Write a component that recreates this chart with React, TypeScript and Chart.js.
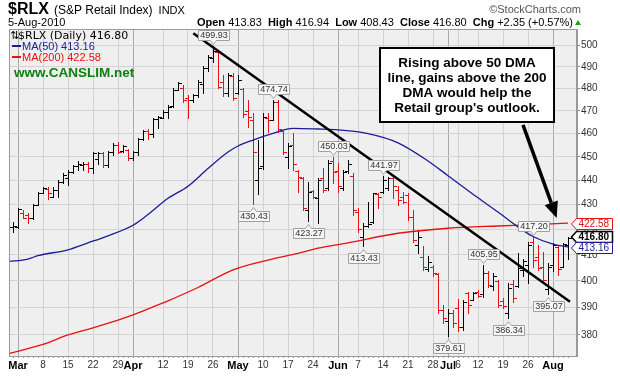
import React, { useEffect, useRef } from "react";
import { Chart, registerables } from "chart.js";
Chart.register(...registerables);

// ---------- DATA ----------
// bar index 0 = 26-Feb-2010 ... index 111 = 5-Aug-2010
const opens = [
  421.1, 421.0, 426.5, 426.0, 424.4, 430.0, 434.8, 436.3, 433.3, 435.9,
  439.5, 441.0, 443.5, 446.0, 446.5, 446.8, 445.1, 449.0, 451.5, 446.5,
  452.0, 455.0, 452.5, 453.0, 449.5, 452.0, 457.5, 461.0, 460.0, 466.5,
  467.0, 469.5, 472.0, 479.5, 480.2, 475.6, 475.0, 477.1, 482.0, 489.5,
  494.0, 497.0, 483.1, 478.2, 486.0, 478.0, 480.0, 470.0, 466.0, 440.0,
  446.0, 467.0, 466.0, 474.0, 461.0, 450.0, 455.0, 444.0, 441.0, 428.0,
  435.5, 432.6, 441.0, 437.0, 448.0, 444.0, 437.0, 444.0, 442.0, 427.0,
  417.0, 421.5, 423.0, 434.3, 435.0, 437.0, 441.0, 436.0, 433.0, 434.0,
  425.0, 414.0, 409.0, 404.5, 405.5, 402.5, 389.0, 385.0, 388.0, 390.0,
  383.0, 395.5, 393.0, 396.0, 395.0, 403.0, 398.0, 400.0, 392.5, 388.0,
  399.0, 398.0, 404.0, 406.0, 415.0, 409.0, 405.5, 397.0, 406.0, 413.0,
  405.5, 413.83,
];
const highs = [
  423.1, 428.5, 427.8, 426.5, 430.2, 435.3, 437.4, 437.4, 437.4, 440.2,
  443.0, 444.4, 446.4, 448.1, 447.6, 447.8, 452.2, 451.9, 451.9, 452.5,
  455.8, 456.5, 455.0, 453.2, 452.5, 458.0, 461.6, 462.0, 467.0, 467.8,
  470.4, 472.6, 480.2, 483.1, 481.6, 477.1, 477.8, 484.0, 490.5, 495.6,
  499.93, 498.0, 486.1, 487.0, 487.0, 486.1, 480.2, 474.9, 468.9, 457.2,
  468.9, 468.9, 474.74, 474.9, 461.2, 455.8, 460.1, 444.4, 441.6, 439.5,
  436.0, 440.9, 445.1, 448.6, 450.03, 447.2, 444.4, 448.6, 443.0, 428.5,
  422.5, 431.2, 434.6, 434.6, 441.97, 441.5, 441.6, 437.5, 435.3, 434.6,
  427.8, 419.8, 413.3, 409.4, 406.0, 402.9, 391.0, 389.5, 389.0, 393.3,
  392.8, 395.9, 395.9, 396.6, 405.95, 403.6, 403.0, 400.3, 393.4, 399.1,
  400.3, 410.7, 408.5, 415.2, 417.2, 413.9, 411.3, 406.7, 414.6, 413.9,
  414.6, 416.94,
];
const lows = [
  419.1, 420.5, 424.4, 422.5, 424.0, 430.0, 434.6, 432.2, 433.0, 433.0,
  438.8, 438.1, 443.0, 444.4, 444.4, 443.7, 443.0, 447.0, 445.5, 445.8,
  450.8, 451.5, 452.0, 448.6, 448.6, 450.8, 457.0, 457.6, 458.5, 462.6,
  466.7, 466.7, 471.9, 479.4, 474.1, 466.7, 474.1, 476.4, 478.0, 488.0,
  492.5, 480.2, 476.7, 476.7, 474.9, 477.6, 467.1, 462.7, 430.43, 434.5,
  445.0, 460.9, 466.0, 460.9, 451.2, 445.1, 444.4, 435.3, 427.8, 423.27,
  432.6, 422.5, 435.3, 436.0, 438.8, 435.3, 436.0, 443.0, 425.8, 419.1,
  413.43, 421.1, 422.5, 428.5, 434.6, 436.0, 432.6, 429.8, 430.5, 423.8,
  415.2, 410.7, 404.2, 403.6, 402.0, 387.9, 384.5, 379.61, 383.0, 381.5,
  381.8, 388.0, 392.8, 394.1, 394.1, 397.8, 396.6, 390.3, 389.7, 386.34,
  392.2, 397.8, 401.7, 399.1, 405.5, 404.2, 399.1, 395.07, 403.6, 402.3,
  405.5, 408.43,
];
const closes = [
  421.3, 428.1, 424.7, 424.4, 430.0, 434.6, 436.7, 434.6, 435.9, 439.5,
  442.3, 443.7, 446.1, 446.8, 447.0, 445.1, 451.5, 451.5, 446.5, 452.0,
  455.0, 452.2, 454.5, 449.5, 452.0, 457.5, 461.0, 459.8, 466.5, 467.3,
  469.7, 471.9, 479.4, 482.4, 474.9, 474.9, 477.1, 483.1, 489.5, 494.5,
  497.5, 480.9, 478.2, 486.5, 475.6, 484.0, 468.6, 467.1, 451.9, 445.3,
  467.1, 466.0, 474.1, 462.0, 451.9, 454.5, 447.0, 441.6, 428.5, 435.3,
  433.0, 440.2, 436.0, 447.5, 443.7, 437.5, 443.5, 447.0, 427.8, 420.0,
  421.5, 422.0, 434.6, 433.0, 440.0, 441.0, 437.5, 432.0, 431.0, 425.0,
  416.0, 417.2, 405.5, 407.4, 403.0, 389.0, 386.0, 388.0, 384.5, 383.0,
  392.0, 391.0, 395.5, 394.5, 403.0, 398.5, 402.0, 391.0, 390.5, 397.5,
  393.5, 405.0, 407.5, 414.0, 408.0, 405.0, 400.5, 405.5, 413.8, 404.5,
  414.45, 416.8,
];

const ma50Idx = [-1, 3, 5, 11, 15, 19, 24, 27, 31, 35, 39, 43, 45, 48, 52, 56, 61, 65, 71, 77, 83, 87, 93, 97, 101, 104, 108, 111];
const ma50Val = [407.4, 408.4, 409.7, 412.0, 414.7, 417.5, 421.7, 426.0, 432.6, 437.6, 445.0, 452.0, 454.6, 457.2, 460.1, 462.3, 462.0, 461.6, 460.0, 456.0, 448.2, 442.0, 432.8, 427.0, 421.0, 417.2, 414.2, 413.16];

const ma200Idx = [-1, 6, 11, 16, 21, 24, 29, 31, 37, 44, 51, 57, 61, 67, 77, 87, 97, 104, 111];
const ma200Val = [373.3, 376.6, 380.0, 382.6, 385.4, 387.3, 391.0, 392.5, 397.5, 404.2, 408.0, 410.6, 412.6, 414.7, 418.5, 420.5, 421.4, 421.9, 422.58];

const trendIdx = [36.06, 111.4];
const trendVal = [505.9, 392.2];

const arrowIdx = [102, 108.74];
const arrowVal = [463.8, 424.6];

const xTickIdx = [1, 6, 11, 16, 21, 24, 30, 35, 40, 45, 50, 55, 60, 65, 69, 74, 79, 84, 87, 89, 93, 98, 103, 108];
const xTickLabels = ["Mar", "8", "15", "22", "29", "Apr", "12", "19", "26", "May", "10", "17", "24", "Jun", "7", "14", "21", "28", "Jul", "6", "12", "19", "26", "Aug"];
const monthNames = ["Mar", "Apr", "May", "Jun", "Jul", "Aug"];

const yTicks = [380, 390, 400, 410, 420, 430, 440, 450, 460, 470, 480, 490, 500];

const peakIdx = [40, 52, 64, 74, 94, 104];
const troughIdx = [48, 59, 70, 87, 99, 107];

const ma50Last = 413.16;
const ma200Last = 422.58;

const noteLines = ["Rising above 50 DMA", "line, gains above the 200", "DMA would help the", "Retail group's outlook."];

// ---------- STYLE ----------
const FONT = '"Liberation Sans", Arial, Helvetica, "DejaVu Sans", sans-serif';
const WIDE = '"DejaVu Sans", Verdana, sans-serif';
const RED = "#e81010";
const NAVY = "#1c1c96";
const BG = "#efefef";
const GRID = "#d3d3d3";
const MONTH_GRID = "#a8a8a8";

const labelMap = new Map<number, string>();
xTickIdx.forEach((v, k) => labelMap.set(v, xTickLabels[k]));

function fmt(v: number) {
  return v.toFixed(2);
}

const drawPlugin = {
  id: "stockDraw",
  beforeDraw(chart: any) {
    const { ctx, chartArea: a } = chart;
    ctx.save();
    ctx.fillStyle = "#ffffff";
    ctx.fillRect(0, 0, chart.width, chart.height);
    ctx.fillStyle = BG;
    ctx.fillRect(a.left, a.top, a.right - a.left, a.bottom - a.top);
    ctx.restore();
  },
  beforeDatasetsDraw(chart: any) {
    const { ctx, chartArea: a } = chart;
    const xs = chart.scales.x;
    const ys = chart.scales.y;
    ctx.save();
    ctx.beginPath();
    ctx.rect(a.left, a.top, a.right - a.left, a.bottom - a.top);
    ctx.clip();
    ctx.lineWidth = 1;
    for (let i = 0; i < closes.length; i++) {
      const px = Math.round(xs.getPixelForValue(i)) + 0.5;
      const yh = Math.round(ys.getPixelForValue(highs[i]));
      const yl = Math.round(ys.getPixelForValue(lows[i]));
      const yo = Math.round(ys.getPixelForValue(opens[i])) + 0.5;
      const yc = Math.round(ys.getPixelForValue(closes[i])) + 0.5;
      ctx.strokeStyle = closes[i] >= opens[i] ? "#000000" : RED;
      ctx.beginPath();
      ctx.moveTo(px, yh);
      ctx.lineTo(px, yl + 1);
      ctx.moveTo(px - 3.5, yo);
      ctx.lineTo(px, yo);
      ctx.moveTo(px, yc);
      ctx.lineTo(px + 3.5, yc);
      ctx.stroke();
    }
    ctx.restore();
  },
  afterDatasetsDraw(chart: any) {
    const { ctx } = chart;
    const xs = chart.scales.x;
    const ys = chart.scales.y;
    ctx.save();
    const drawTag = (i: number, v: number, above: boolean) => {
      const cx = Math.round(xs.getPixelForValue(i));
      const yv = ys.getPixelForValue(v);
      const w = 31;
      const h = 10;
      const left = cx - 15 + 0.5;
      const right = left + w;
      let top: number, bottom: number;
      ctx.beginPath();
      if (above) {
        bottom = Math.round(yv - 6) + 0.5;
        top = bottom - h;
        ctx.moveTo(left, top);
        ctx.lineTo(right, top);
        ctx.lineTo(right, bottom);
        ctx.lineTo(cx + 3.5, bottom);
        ctx.lineTo(cx + 0.5, bottom + 4);
        ctx.lineTo(cx - 2.5, bottom);
        ctx.lineTo(left, bottom);
      } else {
        top = Math.round(yv + 7) + 0.5;
        bottom = top + h;
        ctx.moveTo(left, top);
        ctx.lineTo(cx - 2.5, top);
        ctx.lineTo(cx + 0.5, top - 4);
        ctx.lineTo(cx + 3.5, top);
        ctx.lineTo(right, top);
        ctx.lineTo(right, bottom);
        ctx.lineTo(left, bottom);
      }
      ctx.closePath();
      ctx.fillStyle = "#f6f6f6";
      ctx.fill();
      ctx.strokeStyle = "#a0a0a0";
      ctx.lineWidth = 1;
      ctx.stroke();
      ctx.fillStyle = "#333";
      ctx.font = `9px ${FONT}`;
      ctx.textAlign = "center";
      ctx.textBaseline = "middle";
      ctx.fillText(fmt(v), left + w / 2, top + h / 2 + 0.5);
    };
    peakIdx.forEach((i) => drawTag(i, highs[i], true));
    troughIdx.forEach((i) => drawTag(i, lows[i], false));
    ctx.restore();
  },
  afterDraw(chart: any) {
    const { ctx, chartArea: a } = chart;
    const xs = chart.scales.x;
    const ys = chart.scales.y;
    const n = closes.length - 1;
    ctx.save();
    // plot border
    ctx.strokeStyle = "#9a9a9a";
    ctx.lineWidth = 1;
    ctx.strokeRect(a.left + 0.5, a.top + 0.5, a.right - a.left - 1, a.bottom - a.top);

    // header
    ctx.textBaseline = "alphabetic";
    ctx.textAlign = "left";
    ctx.fillStyle = "#000";
    ctx.font = `bold 16px ${FONT}`;
    ctx.fillText("$RLX", 8, 14);
    let x = 8 + ctx.measureText("$RLX").width + 5;
    ctx.font = `12px ${FONT}`;
    ctx.fillText("(S&P Retail Index)", x, 14);
    x += ctx.measureText("(S&P Retail Index)").width + 6;
    ctx.font = `11px ${FONT}`;
    ctx.fillText("INDX", x, 14);
    ctx.fillStyle = "#555";
    ctx.textAlign = "right";
    ctx.fillText("\u00a9StockCharts.com", 581, 13);

    ctx.textAlign = "left";
    ctx.fillStyle = "#000";
    ctx.font = `11px ${FONT}`;
    ctx.fillText("5-Aug-2010", 8, 26);
    const chg = closes[n] - closes[n - 1];
    const pct = (chg / closes[n - 1]) * 100;
    const parts: [string, boolean][] = [
      ["Open ", true], [fmt(opens[n]) + "  ", false],
      ["High ", true], [fmt(highs[n]) + "  ", false],
      ["Low ", true], [fmt(lows[n]) + "  ", false],
      ["Close ", true], [fmt(closes[n]) + "  ", false],
      ["Chg ", true], [`+${fmt(chg)} (+${pct.toFixed(2)}%)`, false],
    ];
    let total = 0;
    parts.forEach(([t, b]) => {
      ctx.font = `${b ? "bold " : ""}11px ${FONT}`;
      total += ctx.measureText(t).width;
    });
    x = 573 - total;
    parts.forEach(([t, b]) => {
      ctx.font = `${b ? "bold " : ""}11px ${FONT}`;
      ctx.fillText(t, x, 26);
      x += ctx.measureText(t).width;
    });
    ctx.fillStyle = "#1aa01a";
    ctx.beginPath();
    ctx.moveTo(575, 25);
    ctx.lineTo(581, 25);
    ctx.lineTo(578, 20);
    ctx.closePath();
    ctx.fill();

    // legend inside plot
    ctx.fillStyle = "#000";
    ctx.font = `11px ${WIDE}`;
    ctx.fillText("\u21c5", 10, 39);
    ctx.fillText(`$RLX (Daily) ${fmt(closes[n])}`, 18, 39);
    ctx.font = `11px ${FONT}`;
    ctx.fillStyle = NAVY;
    ctx.fillRect(12, 45, 9, 2);
    ctx.fillText(`MA(50) ${fmt(ma50Last)}`, 22, 50);
    ctx.fillStyle = RED;
    ctx.fillRect(12, 56, 9, 2);
    ctx.fillText(`MA(200) ${fmt(ma200Last)}`, 22, 61);
    ctx.fillStyle = "#0b800b";
    ctx.font = `bold 13.5px ${FONT}`;
    ctx.fillText("www.CANSLIM.net", 14, 77);

    // arrow
    const ax0 = xs.getPixelForValue(arrowIdx[0]);
    const ay0 = ys.getPixelForValue(arrowVal[0]);
    const ax1 = xs.getPixelForValue(arrowIdx[1]);
    const ay1 = ys.getPixelForValue(arrowVal[1]);
    const ang = Math.atan2(ay1 - ay0, ax1 - ax0);
    const hl = 16;
    const hw = 7;
    const bx = ax1 - hl * Math.cos(ang);
    const by = ay1 - hl * Math.sin(ang);
    ctx.strokeStyle = "#000";
    ctx.lineWidth = 3.5;
    ctx.beginPath();
    ctx.moveTo(ax0, ay0);
    ctx.lineTo(bx, by);
    ctx.stroke();
    ctx.fillStyle = "#000";
    ctx.beginPath();
    ctx.moveTo(ax1, ay1);
    ctx.lineTo(bx + hw * Math.sin(ang), by - hw * Math.cos(ang));
    ctx.lineTo(bx - hw * Math.sin(ang), by + hw * Math.cos(ang));
    ctx.closePath();
    ctx.fill();

    // callout box
    ctx.fillStyle = "#fff";
    ctx.fillRect(380, 48, 174, 74);
    ctx.lineWidth = 2;
    ctx.strokeStyle = "#000";
    ctx.strokeRect(380, 48, 174, 74);
    ctx.fillStyle = "#000";
    ctx.font = `bold 13.5px ${FONT}`;
    ctx.textAlign = "center";
    noteLines.forEach((t, k) => ctx.fillText(t, 467, 67 + k * 15));

    // right axis value tags
    const tag = (v: number, yc: number, color: string, bold: boolean) => {
      const x0 = 571.5;
      const x1 = 612.5;
      const top = Math.round(yc - 5.5) + 0.5;
      const bot = top + 11;
      const mid = (top + bot) / 2;
      ctx.beginPath();
      ctx.moveTo(x0, mid);
      ctx.lineTo(x0 + 5, top);
      ctx.lineTo(x1, top);
      ctx.lineTo(x1, bot);
      ctx.lineTo(x0 + 5, bot);
      ctx.closePath();
      ctx.fillStyle = "#fff";
      ctx.fill();
      ctx.lineWidth = bold ? 1.5 : 1;
      ctx.strokeStyle = color;
      ctx.stroke();
      ctx.fillStyle = color;
      ctx.font = `${bold ? "bold " : ""}10px ${FONT}`;
      ctx.textAlign = "left";
      ctx.textBaseline = "middle";
      ctx.fillText(fmt(v), x0 + 7, mid + 0.5);
      ctx.textBaseline = "alphabetic";
    };
    tag(ma200Last, ys.getPixelForValue(ma200Last), RED, false);
    tag(closes[n], ys.getPixelForValue(closes[n]) - 1.5, "#000", true);
    tag(ma50Last, ys.getPixelForValue(ma50Last) + 1, NAVY, false);
    ctx.restore();
  },
};

export default function App() {
  const ref = useRef<HTMLCanvasElement>(null);
  useEffect(() => {
    document.body.style.margin = "0";
    const canvas = ref.current;
    if (!canvas) return;
    const toPts = (xs: number[], ys: number[]) => xs.map((v, k) => ({ x: v, y: ys[k] }));
    const chart = new Chart(canvas, {
      type: "line",
      data: {
        datasets: [
          {
            data: toPts(trendIdx, trendVal),
            borderColor: "#000",
            borderWidth: 2.5,
            pointRadius: 0,
            tension: 0,
          },
          {
            data: toPts(ma50Idx, ma50Val),
            borderColor: NAVY,
            borderWidth: 1.3,
            pointRadius: 0,
            cubicInterpolationMode: "monotone",
          },
          {
            data: toPts(ma200Idx, ma200Val),
            borderColor: RED,
            borderWidth: 1.3,
            pointRadius: 0,
            cubicInterpolationMode: "monotone",
          },
        ],
      },
      options: {
        responsive: false,
        maintainAspectRatio: false,
        animation: false,
        devicePixelRatio: 1,
        events: [],
        layout: { padding: { left: 9, right: 0, top: 29, bottom: 0 } },
        plugins: { legend: { display: false }, tooltip: { enabled: false }, title: { display: false } },
        scales: {
          x: {
            type: "linear",
            min: -0.8,
            max: 112.8,
            afterBuildTicks: (s: any) => {
              s.ticks = closes.map((_, i) => ({ value: i }));
            },
            afterFit: (s: any) => {
              s.height = 21;
            },
            ticks: {
              autoSkip: false,
              maxRotation: 0,
              minRotation: 0,
              padding: 1,
              callback: (v: any) => labelMap.get(Number(v)) ?? "",
              font: (c: any) => {
                const l = labelMap.get(c.tick?.value);
                return monthNames.includes(l as string)
                  ? { family: FONT, size: 11, weight: "bold" }
                  : { family: FONT, size: 10, weight: "normal" };
              },
              color: (c: any) => (monthNames.includes(labelMap.get(c.tick?.value) as string) ? "#000" : "#333"),
            },
            grid: {
              color: (c: any) => {
                const l = labelMap.get(c.tick?.value);
                if (l === undefined) return "rgba(0,0,0,0)";
                return monthNames.includes(l) ? MONTH_GRID : GRID;
              },
              tickColor: "#9a9a9a",
              tickLength: 2,
              drawTicks: true,
            },
            border: { color: "#9a9a9a" },
          },
          y: {
            type: "logarithmic",
            position: "right",
            min: 372.5,
            max: 507.98,
            afterBuildTicks: (s: any) => {
              s.ticks = yTicks.map((v) => ({ value: v }));
            },
            afterFit: (s: any) => {
              s.width = 43;
            },
            ticks: {
              autoSkip: false,
              padding: 1,
              callback: (v: any) => String(v),
              font: { family: FONT, size: 10 },
              color: "#333",
            },
            grid: { color: GRID, tickColor: "#888", tickLength: 3 },
            border: { color: "#9a9a9a" },
          },
        },
      } as any,
      plugins: [drawPlugin],
    });
    return () => chart.destroy();
  }, []);
  return (
    <div style={{ position: "absolute", left: 0, top: 0, width: 620, height: 377 }}>
      <canvas ref={ref} width={620} height={377} style={{ display: "block", width: 620, height: 377 }} />
    </div>
  );
}
